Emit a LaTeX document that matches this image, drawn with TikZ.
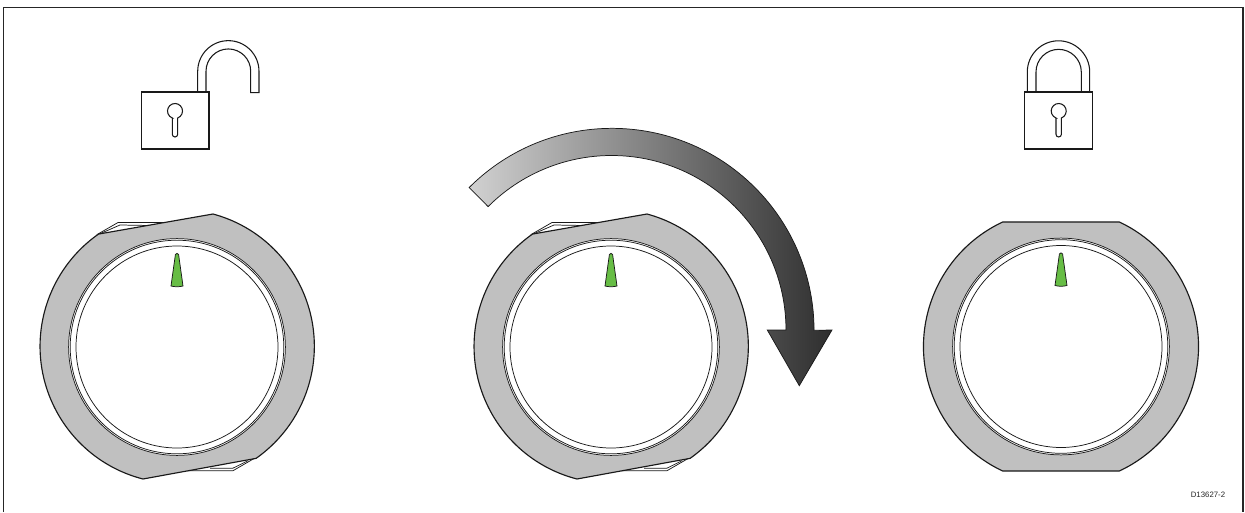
\documentclass[tikz,border=0pt]{standalone}
\usepackage{fontspec}
\setmainfont{Liberation Sans}
\usetikzlibrary{positioning}

\definecolor{bodygray}{RGB}{192,192,192}
\definecolor{needle}{RGB}{103,189,69}

\begin{document}
\begin{tikzpicture}[
  x=0.02cm, y=0.02cm,
  frameline/.style={draw=black!85, line width=0.75pt},
  outline/.style={draw=black!90, line width=0.65pt},
  thinline/.style={draw=black!90, line width=0.42pt},
  lockline/.style={draw=black!90, line width=0.6pt, fill=white},
  dialface/.pic={
    \draw[thinline, fill=white] (0,0) circle[radius=108.4];
    \draw[thinline] (0,0) circle[radius=106.8];
    \draw[thinline] (0,0) circle[radius=101];
    \draw[thinline, fill=needle] (-6,61) .. controls (-3,60) and (3,60) .. (6,61)
      -- (1.6,92.5) .. controls (1,94) and (-1,94) .. (-1.6,92.5) -- cycle;
  },
  dialtilt/.pic={
    \draw[thinline, fill=white] (-79,113) -- (-59,124.5) -- (-10,124.5) -- (0,120) -- cycle;
    \draw[thinline] (-76.5,113.5) -- (-57,122) -- (-27,121.5);
    \draw[thinline, fill=white] (78,-111) -- (56,-123.7) -- (10,-123.7) -- (0,-120) -- cycle;
    \draw[thinline] (71,-113.7) -- (55.7,-121.3) -- (33,-121.3);
    \draw[outline, fill=bodygray] (36,133) arc[start angle=74.9, end angle=-54.9, radius=137]
      -- (-34,-132) arc[start angle=-104.4, end angle=-235, radius=137] -- cycle;
    \pic {dialface};
  },
  dialflat/.pic={
    \draw[outline, fill=bodygray] (115.1:137.5) arc[start angle=115.1, end angle=244.9, radius=137.5]
      -- (-64.9:137.5) arc[start angle=-64.9, end angle=64.9, radius=137.5] -- cycle;
    \pic {dialface};
  },
  keyhole/.pic={
    \draw[lockline] (-2.7,-7) -- (-2.7,-23.3) arc[start angle=180, end angle=360, radius=2.7]
      -- (2.7,-7) arc[start angle=-69, end angle=249, radius=7.5] -- cycle;
  },
]

\useasboundingbox (0,0) rectangle (1245,512);

% frame, open at the foot
\draw[frameline] (3.5,0) -- (3.5,504.5) -- (1243,504.5) -- (1243,0);

% open lock
\draw[lockline] (197.7,420) -- (197.7,440.7) arc[start angle=180, end angle=0, radius=30.65]
  -- (259,419.3) -- (250.7,419.3) -- (250.7,440.7) arc[start angle=0, end angle=180, radius=22.35]
  -- (206,420) -- cycle;
\draw[lockline] (141.7,363) rectangle (209,420);
\pic at (175,401) {keyhole};

% closed lock
\draw[lockline] (1027.3,420) -- (1027.3,440) arc[start angle=180, end angle=0, radius=31.2]
  -- (1089.7,420) -- (1081.3,420) -- (1081.3,440) arc[start angle=0, end angle=180, radius=22.65]
  -- (1036,420) -- cycle;
\draw[lockline] (1024.7,363) rectangle (1092.3,420);
\pic at (1058.7,401) {keyhole};

% dials
\pic at (177,165) {dialtilt};
\pic at (611,165) {dialtilt};
\pic at (1061,165.5) {dialflat};

% turning arrow
\draw[thinline, left color=black!18, right color=black!82]
  (469.2,324.5) arc[start angle=135, end angle=0, radius=202]
  -- (832,182) -- (799.3,126.3) -- (767.3,182) -- (786,182)
  arc[start angle=0, end angle=135, radius=174.5] -- cycle;

\node[font=\fontsize{4.45}{5}\selectfont, inner sep=0pt, text=black!85] (code) at (1208,17) {D13627-2};

\end{tikzpicture}
\end{document}
